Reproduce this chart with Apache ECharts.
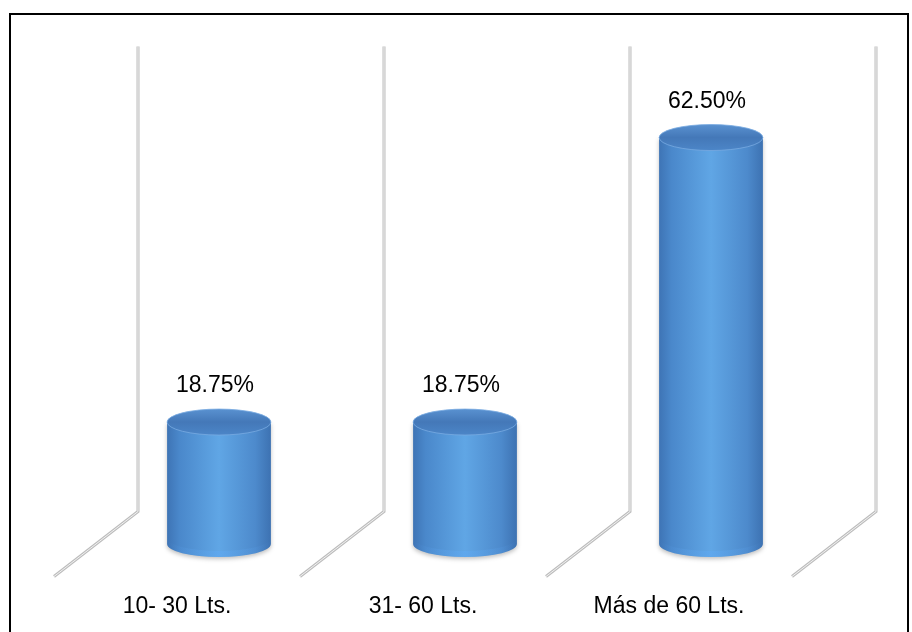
<!DOCTYPE html>
<html>
<head>
<meta charset="utf-8">
<script src="https://cdn.jsdelivr.net/npm/echarts@6/dist/echarts.min.js"></script>
<style>
  html, body { margin: 0; padding: 0; background: #fff; }
  #chart { width: 912px; height: 632px; }
</style>
</head>
<body>
<div id="chart"></div>
<script>
// Capacidad (litros) y porcentaje de respuestas
const categories = ['10- 30 Lts.', '31- 60 Lts.', 'Más de 60 Lts.'];
const percentages = [18.75, 18.75, 62.5];
// Top of the back wall, in axis units
const yMax = 71.5;
// Boundaries between categories (in band units from the first band's left edge)
const wallBoundaries = [0, 1, 2, 3];

// Half-depth offset of the pseudo-3D floor (pixels)
const DX = 42, DY = 32.5;
const FONT = 'Liberation Sans, Arial, sans-serif';

const chart = echarts.init(document.getElementById('chart'));

function renderWalls(params, api) {
  const base = api.coord([0, 0]);
  const topPt = api.coord([0, yMax]);
  const band = api.size([1, 0])[0];
  const left0 = base[0] - band / 2;
  const children = [];
  wallBoundaries.forEach(function (b) {
    const x = left0 + b * band;
    const bx = x + DX, by = base[1] - DY;
    const pts = [[bx, topPt[1] - DY], [bx, by], [x - DX, base[1] + DY]];
    children.push({
      type: 'polyline', shape: { points: pts },
      style: { stroke: '#bdbdbd', lineWidth: 3, fill: null, lineJoin: 'miter' }
    });
    children.push({
      type: 'polyline', shape: { points: pts },
      style: { stroke: '#f2f2f2', lineWidth: 1, fill: null, lineJoin: 'miter' }
    });
  });
  return { type: 'group', children: children };
}

function renderCylinder(params, api) {
  const i = api.value(0), v = api.value(1);
  const top = api.coord([i, v]);
  const base = api.coord([i, 0]);
  const band = api.size([1, 0])[0];
  const rx = band * 0.211, ry = 13;
  const cx = top[0];
  const xl = cx - rx, xr = cx + rx;
  const yt = top[1], yb = base[1];

  const bodyGrad = new echarts.graphic.LinearGradient(0, 0, 1, 0, [
    { offset: 0, color: '#3e74b5' },
    { offset: 0.12, color: '#4a88cb' },
    { offset: 0.5, color: '#60a6e5' },
    { offset: 0.85, color: '#4d8acc' },
    { offset: 1, color: '#3d72b2' }
  ]);
  const topGrad = new echarts.graphic.LinearGradient(0, 0, 0, 1, [
    { offset: 0, color: '#5a92d1' },
    { offset: 0.5, color: '#4478b8' },
    { offset: 1, color: '#4c86c8' }
  ]);
  const bottomGrad = new echarts.graphic.LinearGradient(0, 0, 1, 0, [
    { offset: 0, color: 'rgba(90,160,235,0.0)' },
    { offset: 0.5, color: 'rgba(95,170,245,0.5)' },
    { offset: 1, color: 'rgba(90,160,235,0.0)' }
  ]);

  const body = 'M' + xl + ',' + yt + ' L' + xl + ',' + yb +
    ' A' + rx + ',' + ry + ' 0 0 0 ' + xr + ',' + yb +
    ' L' + xr + ',' + yt + ' Z';
  const lip = 'M' + xl + ',' + (yb - 6) + ' L' + xl + ',' + yb +
    ' A' + rx + ',' + ry + ' 0 0 0 ' + xr + ',' + yb +
    ' L' + xr + ',' + (yb - 6) +
    ' A' + rx + ',' + ry + ' 0 0 1 ' + xl + ',' + (yb - 6) + ' Z';
  const cap = 'M' + xl + ',' + yt +
    ' A' + rx + ',' + ry + ' 0 1 0 ' + xr + ',' + yt +
    ' A' + rx + ',' + ry + ' 0 1 0 ' + xl + ',' + yt + ' Z';

  return {
    type: 'group',
    children: [
      {
        type: 'path', shape: { pathData: body },
        style: {
          fill: bodyGrad, shadowBlur: 4, shadowOffsetY: 2,
          shadowColor: 'rgba(0,0,0,0.25)'
        }
      },
      { type: 'path', shape: { pathData: lip }, style: { fill: bottomGrad } },
      {
        type: 'path', shape: { pathData: cap },
        style: { fill: topGrad, stroke: 'rgba(120,170,225,0.8)', lineWidth: 1 }
      },
      {
        type: 'text',
        x: cx - 4, y: yt - 36,
        style: {
          text: v.toFixed(2) + '%', fill: '#000', font: '23px ' + FONT,
          align: 'center', verticalAlign: 'middle'
        }
      }
    ]
  };
}

chart.setOption({
  animation: false,
  backgroundColor: '#fff',
  grid: { left: 96, right: 78, top: 79, bottom: 88 },
  graphic: [{
    type: 'rect', z: 100,
    shape: { x: 10, y: 14, width: 898, height: 640 },
    style: { fill: null, stroke: '#000', lineWidth: 2 }
  }],
  xAxis: {
    type: 'category',
    data: categories,
    axisLine: { show: false },
    axisTick: { show: false },
    splitLine: { show: false },
    axisLabel: {
      color: '#000', fontSize: 23, fontFamily: FONT,
      margin: 51, padding: [0, 2 * DX, 0, 0]
    }
  },
  yAxis: {
    type: 'value', min: 0, max: yMax, show: false,
    splitLine: { show: false }
  },
  series: [
    {
      type: 'custom', z: 1, silent: true,
      renderItem: renderWalls,
      data: [[0, 0]],
      encode: { x: 0, y: 1 }
    },
    {
      type: 'custom', z: 2,
      renderItem: renderCylinder,
      data: percentages.map(function (v, i) { return [i, v]; }),
      encode: { x: 0, y: 1 }
    }
  ]
});
</script>
</body>
</html>
